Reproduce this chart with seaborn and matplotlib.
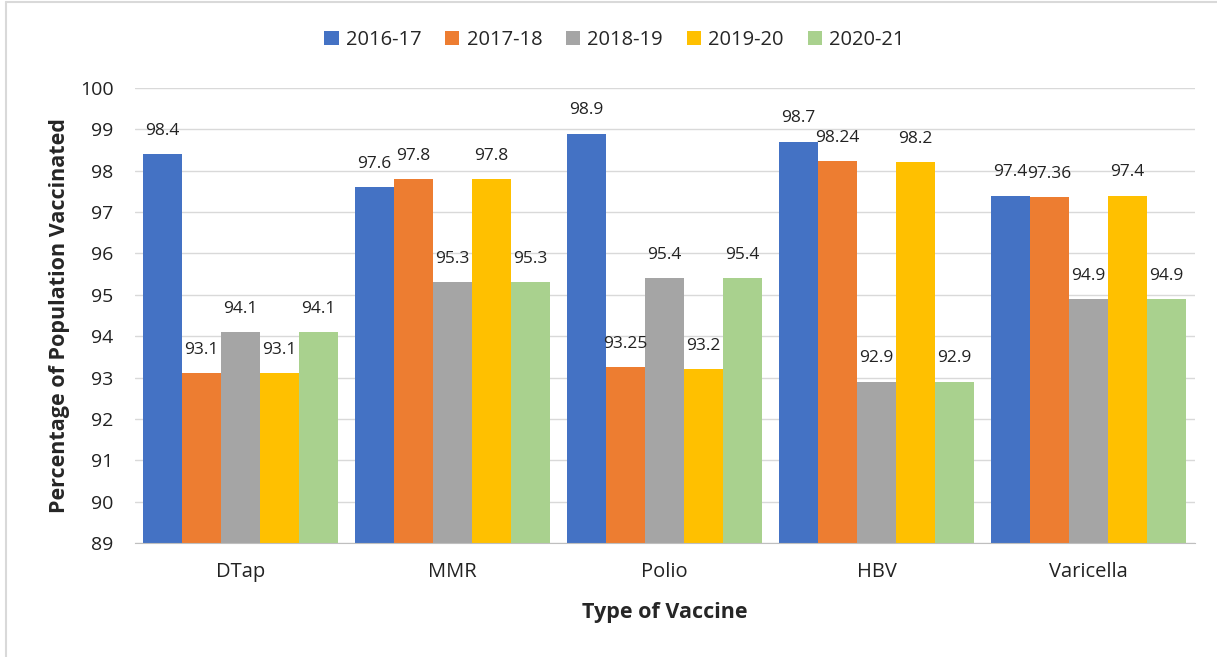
import matplotlib
matplotlib.use("Agg")
import matplotlib.pyplot as plt
from matplotlib.lines import Line2D
import seaborn as sns
import pandas as pd

vaccines = ["DTap", "MMR", "Polio", "HBV", "Varicella"]
years = ["2016-17", "2017-18", "2018-19", "2019-20", "2020-21"]
v2016_17 = [98.4, 97.6, 98.9, 98.7, 97.4]
v2017_18 = [93.1, 97.8, 93.25, 98.24, 97.36]
v2018_19 = [94.1, 95.3, 95.4, 92.9, 94.9]
v2019_20 = [93.1, 97.8, 93.2, 98.2, 97.4]
v2020_21 = [94.1, 95.3, 95.4, 92.9, 94.9]
colors = ["#4472C4", "#ED7D31", "#A5A5A5", "#FFC000", "#A9D18E"]

series = [v2016_17, v2017_18, v2018_19, v2019_20, v2020_21]
rows = []
for y, vals in zip(years, series):
    for v, val in zip(vaccines, vals):
        rows.append({"Vaccine": v, "Year": y, "Value": val})
df = pd.DataFrame(rows)

sns.set_style("white")
plt.rcParams["font.family"] = ["Open Sans", "DejaVu Sans"]

fig = plt.figure(figsize=(12.17, 6.57), dpi=100)
ax = fig.add_axes([134.5/1217, 1-543/657, (1194.5-134.5)/1217, (543-88)/657])

sns.barplot(data=df, x="Vaccine", y="Value", hue="Year", order=vaccines,
            hue_order=years, palette=colors, width=0.92, gap=0,
            saturation=1, ax=ax, legend=True, errorbar=None, linewidth=0)

for cont, vals in zip(ax.containers, series):
    ax.bar_label(cont, labels=["%g" % v for v in vals], padding=11,
                 fontsize=12.5, color="#222222")

ax.set_ylim(89, 100)
ax.set_yticks(range(89, 101))
ax.set_xlim(-0.5, 4.5)
ax.yaxis.grid(True, color="#D9D9D9", linewidth=1)
ax.set_axisbelow(True)
for s in ["top", "right", "left"]:
    ax.spines[s].set_visible(False)
ax.spines["bottom"].set_color("#BFBFBF")
ax.tick_params(axis="both", length=0, colors="#222222")
ax.tick_params(axis="y", labelsize=14, pad=15)
ax.tick_params(axis="x", labelsize=14.5, pad=14)
ax.set_xlabel("Type of Vaccine", fontsize=15.5, fontweight="bold", labelpad=14)
ax.set_ylabel("Percentage of Population Vaccinated", fontsize=15.5,
              fontweight="bold", labelpad=7)

handles, labels = ax.get_legend_handles_labels()
ax.get_legend().remove()
fig.legend(handles, labels, loc="center", bbox_to_anchor=(0.505, 1-40/657),
           ncol=5, frameon=False, fontsize=14.5, handlelength=0.7,
           handleheight=0.7, handletextpad=0.35, columnspacing=1.2)

fig.add_artist(Line2D([6/1217, 6/1217], [0, 1-2/657], transform=fig.transFigure,
                      color="#D9D9D9", linewidth=1.5))
fig.add_artist(Line2D([6/1217, 1], [1-2/657, 1-2/657], transform=fig.transFigure,
                      color="#D9D9D9", linewidth=1.5))

fig.savefig("out.png", dpi=100)
